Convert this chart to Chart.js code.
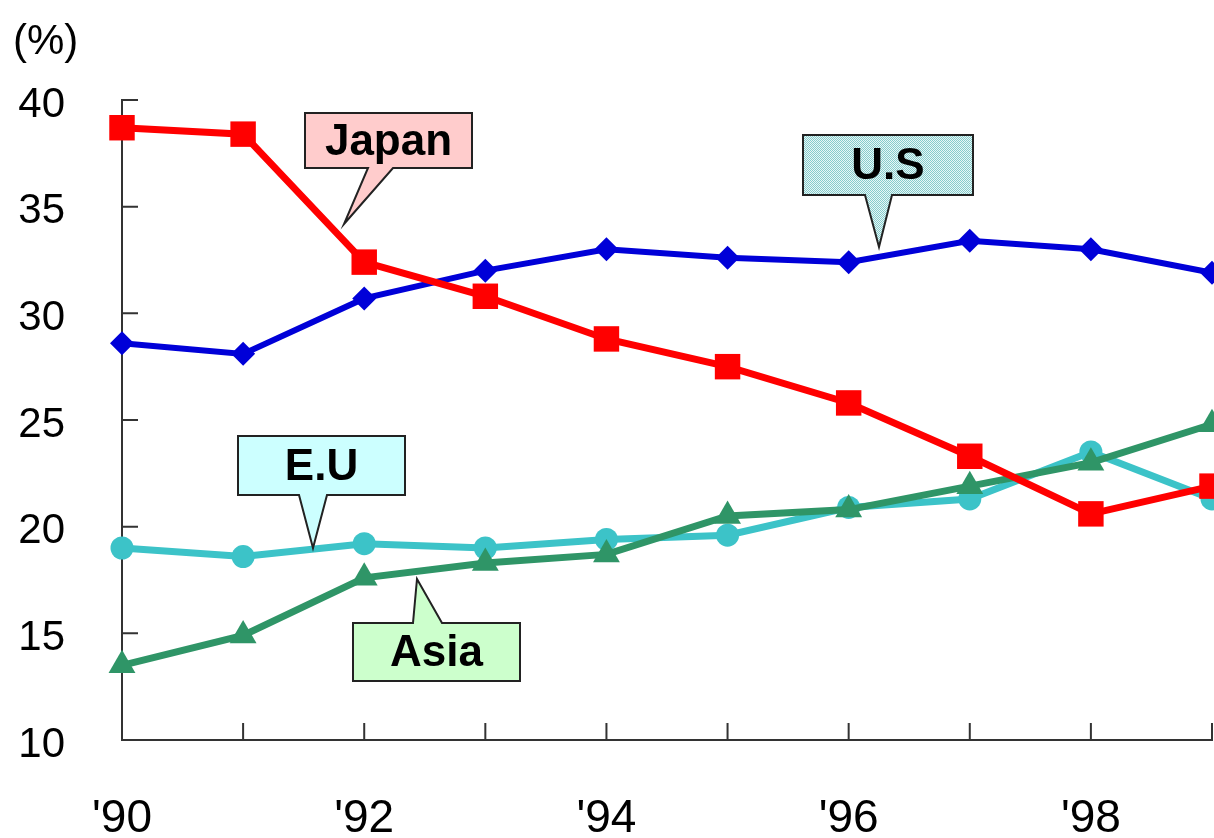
<!DOCTYPE html>
<html>
<head>
<meta charset="utf-8">
<script src="https://cdn.jsdelivr.net/npm/chart.js@4.4.0/dist/chart.umd.min.js"></script>
<style>
  html, body { margin: 0; padding: 0; background: #fff; overflow: hidden; }
  canvas { display: block; }
</style>
</head>
<body>
<canvas id="chart" width="1214" height="838"></canvas>
<script>
// Datos
const years = ["'90", "'91", "'92", "'93", "'94", "'95", "'96", "'97", "'98", "'99"];
const japan = [38.7, 38.4, 32.4, 30.8, 28.8, 27.5, 25.8, 23.3, 20.6, 21.9];
const us    = [28.6, 28.1, 30.7, 32.0, 33.0, 32.6, 32.4, 33.4, 33.0, 31.9];
const eu    = [19.0, 18.6, 19.2, 19.0, 19.4, 19.6, 20.9, 21.3, 23.5, 21.3];
const asia  = [13.5, 14.9, 17.6, 18.3, 18.7, 20.5, 20.8, 21.9, 23.0, 24.8];
const yTicks = [10, 15, 20, 25, 30, 35, 40];

const FONT = 'Liberation Sans, Arial, sans-serif';

// patrón punteado para la etiqueta U.S
function makePattern() {
  const c = document.createElement('canvas');
  c.width = 2; c.height = 2;
  const g = c.getContext('2d');
  g.fillStyle = '#e8f7f7';
  g.fillRect(0, 0, 2, 2);
  g.fillStyle = '#86cccc';
  g.fillRect(0, 0, 1, 1);
  g.fillRect(1, 1, 1, 1);
  return g.createPattern(c, 'repeat');
}

// Etiquetas tipo globo (posición en píxeles)
const callouts = [
  { text: 'Japan', fill: '#ffcccc', x1: 305, y1: 113, x2: 472, y2: 168, side: 'bottom', b1: 368, b2: 393, tx: 344, ty: 224 },
  { text: 'U.S',   fill: 'pattern', x1: 803, y1: 135, x2: 973, y2: 195, side: 'bottom', b1: 865, b2: 892, tx: 879, ty: 247 },
  { text: 'E.U',   fill: '#ccffff', x1: 238, y1: 436, x2: 405, y2: 495, side: 'bottom', b1: 299, b2: 327, tx: 313, ty: 548 },
  { text: 'Asia',  fill: '#ccffcc', x1: 353, y1: 623, x2: 520, y2: 681, side: 'top',    b1: 413, b2: 442, tx: 417, ty: 579 }
];

const decorPlugin = {
  id: 'decor',
  afterDraw(chart) {
    const { ctx, scales } = chart;
    const xs = scales.x, ys = scales.y;
    ctx.save();
    // marcas internas de los ejes
    ctx.strokeStyle = '#333';
    ctx.lineWidth = 2;
    ctx.beginPath();
    yTicks.forEach(v => {
      const py = ys.getPixelForValue(v);
      ctx.moveTo(xs.left, py);
      ctx.lineTo(xs.left + 16, py);
    });
    years.forEach((y, i) => {
      if (i === 0) return;
      const px = xs.getPixelForValue(i);
      ctx.moveTo(px, ys.bottom);
      ctx.lineTo(px, ys.bottom - 17);
    });
    ctx.stroke();

    // unidad
    ctx.fillStyle = '#000';
    ctx.font = '42px ' + FONT;
    ctx.textAlign = 'left';
    ctx.textBaseline = 'middle';
    ctx.fillText('(%)', 13, 42);

    // globos
    const pat = makePattern();
    callouts.forEach(c => {
      ctx.beginPath();
      if (c.side === 'bottom') {
        ctx.moveTo(c.x1, c.y1);
        ctx.lineTo(c.x2, c.y1);
        ctx.lineTo(c.x2, c.y2);
        ctx.lineTo(c.b2, c.y2);
        ctx.lineTo(c.tx, c.ty);
        ctx.lineTo(c.b1, c.y2);
        ctx.lineTo(c.x1, c.y2);
      } else {
        ctx.moveTo(c.x1, c.y1);
        ctx.lineTo(c.b1, c.y1);
        ctx.lineTo(c.tx, c.ty);
        ctx.lineTo(c.b2, c.y1);
        ctx.lineTo(c.x2, c.y1);
        ctx.lineTo(c.x2, c.y2);
        ctx.lineTo(c.x1, c.y2);
      }
      ctx.closePath();
      ctx.fillStyle = c.fill === 'pattern' ? pat : c.fill;
      ctx.fill();
      ctx.strokeStyle = '#222';
      ctx.lineWidth = 2;
      ctx.stroke();
      ctx.fillStyle = '#000';
      ctx.font = 'bold 44px ' + FONT;
      ctx.textAlign = 'center';
      ctx.textBaseline = 'middle';
      ctx.fillText(c.text, (c.x1 + c.x2) / 2, (c.y1 + c.y2) / 2 + 2);
    });
    ctx.restore();
  }
};

function serie(label, data, color, style, radius, width, order) {
  return {
    label: label,
    data: data,
    borderColor: color,
    backgroundColor: color,
    borderWidth: width,
    pointStyle: style,
    pointRadius: radius,
    pointBorderWidth: 0,
    pointBackgroundColor: color,
    tension: 0,
    clip: false,
    order: order
  };
}

new Chart(document.getElementById('chart'), {
  type: 'line',
  data: {
    labels: years,
    datasets: [
      serie('Japan', japan, '#ff0000', 'rect', 18, 7, 0),
      serie('U.S', us, '#0000d8', 'rectRot', 12, 6, 3),
      serie('E.U', eu, '#3cc3c8', 'circle', 11.5, 7, 2),
      serie('Asia', asia, '#2f9567', 'triangle', 15.5, 7, 1)
    ]
  },
  options: {
    responsive: false,
    animation: false,
    layout: { autoPadding: false, padding: { top: 100, right: 2, left: 0, bottom: 0 } },
    plugins: {
      legend: { display: false },
      tooltip: { enabled: false }
    },
    scales: {
      x: {
        offset: false,
        grid: { display: false, drawTicks: false },
        border: { display: true, color: '#333', width: 2 },
        ticks: {
          autoSkip: false,
          maxRotation: 0,
          padding: 52,
          color: '#000',
          font: { size: 46, family: FONT },
          callback: function (v, i) { return i % 2 === 0 ? years[i] : ''; }
        },
        afterFit: s => { s.height = 98; s.paddingRight = 0; s.paddingLeft = 0; }
      },
      y: {
        min: 10,
        max: 40,
        grid: { display: false, drawTicks: false },
        border: { display: true, color: '#333', width: 2 },
        ticks: {
          stepSize: 5,
          padding: 57,
          labelOffset: 5,
          color: '#000',
          font: { size: 42, family: FONT }
        },
        afterFit: s => { s.width = 122; }
      }
    }
  },
  plugins: [decorPlugin]
});
</script>
</body>
</html>
